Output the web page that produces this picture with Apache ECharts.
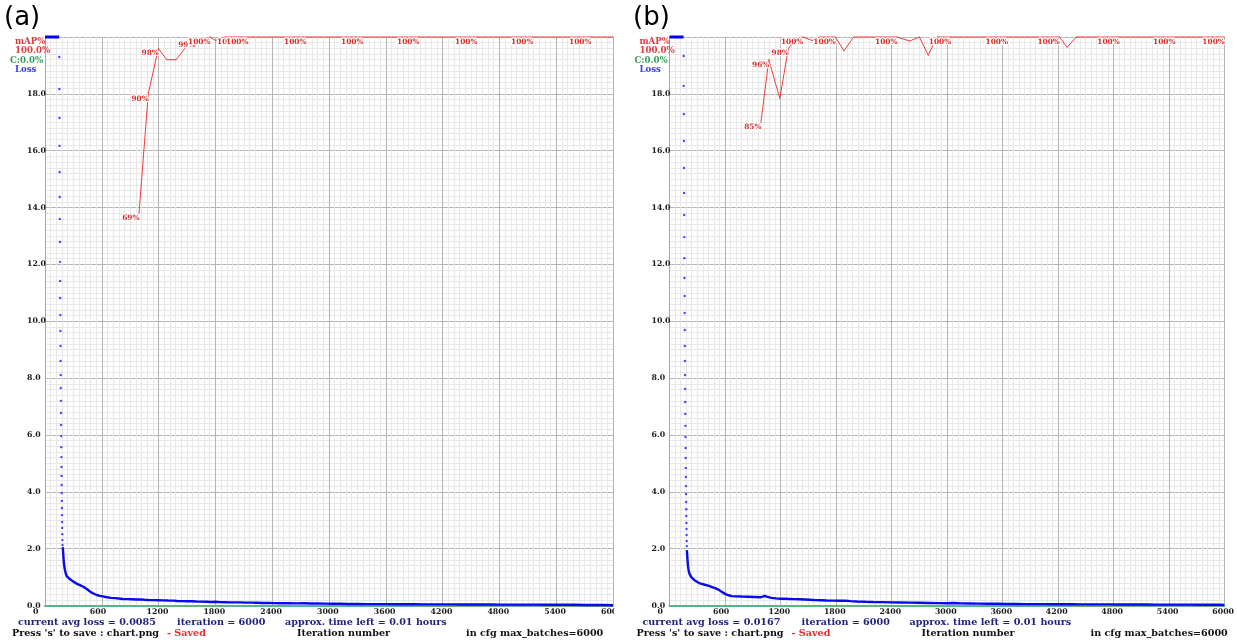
<!DOCTYPE html>
<html><head><meta charset="utf-8">
<script src="https://cdn.jsdelivr.net/npm/echarts@6/dist/echarts.min.js"></script>
<style>html,body{margin:0;padding:0;background:#fff}#c{width:1237px;height:642px}</style>
</head><body><div id="c"></div>
<script>
// ---------- tick / axis data ----------
const maxBatches = 6000;
const lossMax = 20;
const xTickStep = 600;
const yTickStep = 2;

// ---------- panel (a) ----------
const lossAboveTopItersA = [0, 150];          // iterations where loss was above the chart top (drawn at top edge)
const dotItersA = [151,152,153,154,155,156,157,158,159,160,161,162,163,164,165,166,167,168,169,170,171,172,173,174,175,176,177,178,179,180,181,182,183,184,185];
const dotLossA  = [19.30,18.17,17.15,16.17,15.25,14.37,13.60,12.79,12.09,11.42,10.82,10.22,9.66,9.13,8.60,8.11,7.65,7.20,6.77,6.35,5.96,5.57,5.22,4.87,4.56,4.24,3.96,3.68,3.43,3.18,2.94,2.73,2.51,2.30,2.13];
const lossItersA = [186,190,197,204,211,220,230,246,265,280,299,320,340,360,380,405,425,445,475,500,520,546,580,610,652,700,740,780,824,870,920,960,1000,1050,1109,1150,1200,1250,1300,1352,1400,1450,1500,1550,1600,1650,1708,1760,1800,1850,1900,1950,2000,2060,2120,2180,2240,2300,2360,2420,2500,2580,2660,2740,2800,2880,2960,3040,3120,3200,3300,3400,3500,3600,3700,3800,3900,4000,4100,4200,4300,4400,4500,4600,4700,4800,4900,5000,5100,5200,5300,5400,5500,5600,5700,5800,5900,6000];
const lossValsA  = [2.05,1.95,1.60,1.38,1.25,1.12,1.03,0.97,0.92,0.88,0.84,0.80,0.76,0.73,0.70,0.66,0.61,0.57,0.49,0.44,0.40,0.37,0.34,0.32,0.29,0.27,0.26,0.245,0.23,0.225,0.22,0.21,0.215,0.20,0.19,0.19,0.185,0.18,0.175,0.17,0.16,0.155,0.15,0.15,0.14,0.135,0.13,0.125,0.13,0.12,0.115,0.11,0.11,0.11,0.10,0.10,0.095,0.09,0.09,0.085,0.08,0.08,0.075,0.08,0.07,0.07,0.065,0.06,0.06,0.055,0.055,0.05,0.05,0.05,0.045,0.045,0.045,0.04,0.04,0.04,0.04,0.035,0.04,0.035,0.035,0.03,0.03,0.03,0.03,0.03,0.025,0.025,0.025,0.025,0.02,0.02,0.02,0.0085];
const mapItersA  = [993,1091,1197,1286,1384,1489,1584,1743,1800,1900,2049,2144,2757,3359,3950,4563,5155,5767,6000];
const mapValsA   = [69,90,98,96,96,98.2,99.4,100,99.4,100,100,100,100,100,100,100,100,100,100];
const mapLabelA  = [1,1,1,0,0,0,1,1,0,0,1,1,1,1,1,1,1,1,0];
const infoA = {avgLoss:'0.0085', iteration:'6000', timeLeft:'0.01', mapNow:'100.0%', cNow:'C:0.0%'};

// ---------- panel (b) ----------
const lossAboveTopItersB = [0, 152];
const dotItersB = [153,154,155,156,157,158,159,160,161,162,163,164,165,166,167,168,169,170,171,172,173,174,175,176,177,178,179,180,181,182,183,184,185,186,187];
const dotLossB  = [19.33,18.28,17.29,16.34,15.39,14.51,13.74,12.96,12.22,11.52,10.89,10.29,9.69,9.13,8.60,8.11,7.62,7.16,6.74,6.32,5.93,5.54,5.19,4.84,4.52,4.20,3.92,3.64,3.39,3.15,2.90,2.69,2.48,2.27,2.09];
const lossItersB = [188,195,200,206,215,225,235,255,270,288,320,350,380,428,460,500,534,560,580,605,640,672,720,780,852,920,989,1010,1028,1050,1100,1150,1201,1250,1300,1350,1402,1460,1520,1580,1640,1700,1769,1830,1900,1960,2030,2121,2200,2300,2400,2500,2600,2700,2800,2900,3000,3080,3150,3250,3350,3450,3550,3650,3750,3850,3950,4050,4150,4250,4350,4450,4550,4650,4750,4850,4950,5050,5150,5250,5350,5450,5550,5650,5750,5850,5950,6000];
const lossValsB  = [1.95,1.60,1.40,1.25,1.12,1.05,1.00,0.93,0.89,0.84,0.79,0.76,0.73,0.69,0.65,0.60,0.55,0.49,0.44,0.40,0.36,0.33,0.32,0.315,0.31,0.30,0.29,0.32,0.34,0.31,0.27,0.25,0.24,0.235,0.23,0.225,0.22,0.21,0.20,0.19,0.185,0.175,0.17,0.165,0.17,0.155,0.14,0.13,0.125,0.12,0.11,0.105,0.10,0.095,0.09,0.085,0.08,0.09,0.075,0.07,0.065,0.06,0.06,0.055,0.055,0.05,0.05,0.05,0.045,0.045,0.045,0.04,0.04,0.04,0.04,0.035,0.035,0.035,0.035,0.03,0.03,0.03,0.03,0.03,0.025,0.025,0.025,0.0167];
const mapItersB  = [989,1074,1193,1285,1381,1442,1539,1624,1793,1888,1991,2460,2597,2703,2798,2893,3042,3655,4216,4300,4400,4864,5467,6000];
const mapValsB   = [85,96,89.2,98,99.8,100,99.4,100,100,97.6,100,100,99.3,100,96.8,100,100,100,100,98.2,100,100,100,100];
const mapLabelB  = [1,1,0,1,0,1,0,0,1,0,0,1,0,0,0,0,1,1,1,0,0,1,1,1];
const infoB = {avgLoss:'0.0167', iteration:'6000', timeLeft:'0.01', mapNow:'100.0%', cNow:'C:0.0%'};

// ---------- layout ----------
const panels = [
  {tag:'(a)', tagX:4, left:45, width:568, aboveTop:lossAboveTopItersA, dotI:dotItersA, dotL:dotLossA, li:lossItersA, lv:lossValsA, mi:mapItersA, mv:mapValsA, ml:mapLabelA, info:infoA},
  {tag:'(b)', tagX:633, left:669.5, width:567, aboveTop:lossAboveTopItersB, dotI:dotItersB, dotL:dotLossB, li:lossItersB, lv:lossValsB, mi:mapItersB, mv:mapValsB, ml:mapLabelB, info:infoB}
];
const TOP = 37, HEIGHT = 568.5;
const SERIF = 'DejaVu Serif';

const grids = [], xAxes = [], yAxes = [], series = [], graphics = [];
panels.forEach((p, i) => {
  grids.push({left:p.left, top:TOP, width:p.width, height:HEIGHT, containLabel:false});
  xAxes.push({
    type:'value', gridIndex:i, min:0, max:maxBatches, interval:xTickStep,
    axisLine:{show:true, onZero:false, lineStyle:{color:'#5fb383', width:2}},
    axisTick:{show:false},
    axisLabel:{show:true, showMinLabel:true, showMaxLabel:true, align:'left', padding:[0,0,0,-12], margin:2,
      formatter:v=>String(v), fontFamily:SERIF, fontWeight:'bold', fontSize:7.8, color:'#1a1a1a'},
    splitLine:{show:true, lineStyle:{color:'#b5b5b5', width:1}},
    minorTick:{show:false, splitNumber:10},
    minorSplitLine:{show:true, lineStyle:{color:'#e7e7e7', width:1}}
  });
  yAxes.push({
    type:'value', gridIndex:i, min:0, max:lossMax, interval:yTickStep,
    axisLine:{show:true, lineStyle:{color:'#a8a8a8', width:1}},
    axisTick:{show:false},
    axisLabel:{show:true, showMaxLabel:false, align:'left', margin:18, formatter:v=>v.toFixed(1),
      fontFamily:SERIF, fontWeight:'bold', fontSize:7.8, color:'#1a1a1a'},
    splitLine:{show:true, lineStyle:{color:'#b5b5b5', width:1}},
    minorTick:{show:false, splitNumber:10},
    minorSplitLine:{show:true, lineStyle:{color:'#e7e7e7', width:1}}
  });
  yAxes.push({type:'value', gridIndex:i, min:0, max:100, show:false});
  const yLoss = i*2, yMap = i*2+1;
  // loss above chart top -> drawn along the top edge
  series.push({type:'line', xAxisIndex:i, yAxisIndex:yLoss, clip:false, symbol:'none', silent:true,
    lineStyle:{color:'#0000ff', width:3}, data:p.aboveTop.map(it=>[it, lossMax]), z:5});
  // early loss dots
  series.push({type:'scatter', xAxisIndex:i, yAxisIndex:yLoss, symbolSize:2.4, silent:true,
    itemStyle:{color:'#1a1aff'}, data:p.dotI.map((it,k)=>[it, p.dotL[k]]), z:5});
  // loss curve
  series.push({type:'line', xAxisIndex:i, yAxisIndex:yLoss, symbol:'none', silent:true, clip:false,
    lineStyle:{color:'#0a0af0', width:2.4}, data:p.li.map((it,k)=>[it, p.lv[k]]), z:5});
  // mAP curve with labels
  series.push({type:'line', xAxisIndex:i, yAxisIndex:yMap, symbol:'circle', symbolSize:1, clip:false, silent:true,
    itemStyle:{color:'#f04040'}, lineStyle:{color:'#f03c3c', width:1}, z:6,
    label:{show:false},
    data:p.mi.map((it,k)=>{
      const d = {value:[it, p.mv[k]]};
      if (p.ml[k]) d.label = {show:true, position:[0,0], align:'right', verticalAlign:'top', offset:[1,2],
        formatter: Math.round(p.mv[k]) + '%', fontFamily:SERIF, fontWeight:'bold', fontSize:7.4, color:'#d82c2c',
        textBorderColor:'#ffffff', textBorderWidth:2.5};
      return d;
    })});
  // texts
  const L = p.left;
  const t = (x, y, text, color, size, weight) => graphics.push({type:'text', x:x, y:y, z:50,
    style:{text:text, fill:color, font:(weight||'bold')+' '+(size||9)+'px "'+SERIF+'"', textVerticalAlign:'middle'}});
  graphics.push({type:'text', x:p.tagX, y:5, z:50, style:{text:p.tag, fill:'#000', font:'26px "DejaVu Sans"', textVerticalAlign:'top'}});
  t(L-30, 41.5, 'mAP%', '#e03a3a', 8.6);
  t(L-30, 51, p.info.mapNow, '#e03a3a', 8.6);
  t(L-35, 61, p.info.cNow, '#2f9e58', 8.6);
  t(L-30, 70, 'Loss', '#3a3aff', 8.6);
  t(L-27, 622, 'current avg loss = ' + p.info.avgLoss, '#23237d', 9.6);
  t(L+132, 622, 'iteration = ' + p.info.iteration, '#23237d', 9.6);
  t(L+240, 622, 'approx. time left = ' + p.info.timeLeft + ' hours', '#23237d', 9.6);
  t(L-33, 633, "Press 's' to save : chart.png", '#111', 9.6);
  t(L+122, 633, '- Saved', '#ee2a2a', 9.6);
  t(L+252, 633, 'Iteration number', '#111', 9.6);
  t(L+421, 633, 'in cfg max_batches=' + maxBatches, '#111', 9.6);
});
// white gap between the two cropped panels
graphics.push({type:'rect', shape:{x:614.5, y:0, width:17, height:642}, style:{fill:'#fff'}, z:40});

const chart = echarts.init(document.getElementById('c'));
chart.setOption({
  animation:false, backgroundColor:'#fff',
  grid:grids, xAxis:xAxes, yAxis:yAxes, series:series, graphic:graphics
});
</script></body></html>
